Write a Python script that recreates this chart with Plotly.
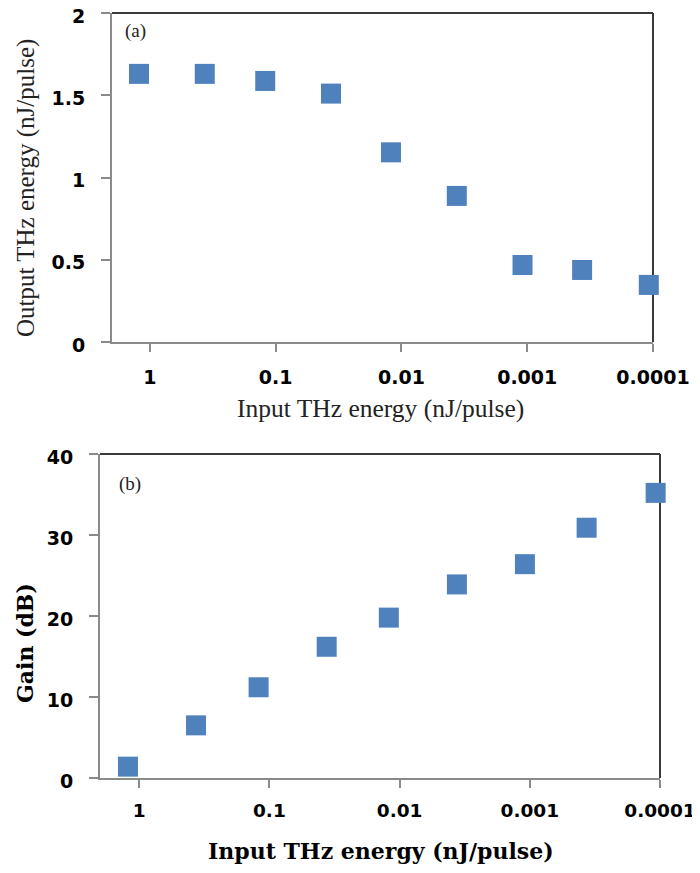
import plotly.graph_objects as go

# ---- data ----
input_energy = [1.22, 0.366, 0.121, 0.0363, 0.0121, 0.00363, 0.00109, 0.000366, 0.000108]
output_energy = [1.63, 1.63, 1.587, 1.51, 1.153, 0.888, 0.468, 0.438, 0.347]
gain_db = [1.4, 6.5, 11.2, 16.2, 19.8, 23.9, 26.4, 30.9, 35.2]

x_tickvals = [1, 0.1, 0.01, 0.001, 0.0001]
x_ticktext = ["1", "0.1", "0.01", "0.001", "0.0001"]
y1_tickvals = [0, 0.5, 1, 1.5, 2]
y1_ticktext = ["0", "0.5", "1", "1.5", "2"]
y2_tickvals = [0, 10, 20, 30, 40]

# page body has an 8px margin, so the figure is drawn at (8, 8)
OFF = 8
W, H = 700 - OFF, 873 - OFF
MARK = "#4F81BD"
AX_GRAY = "#8a8a8a"
BOX_DARK = "#3a3a3a"
TICK_FONT = dict(family="DejaVu Sans", size=19, color="black", weight="bold")


def fx(px):
    return (px - OFF) / W


def fy(py):
    return 1 - (py - OFF) / H


fig = go.Figure()
fig.add_trace(go.Scatter(x=input_energy, y=output_energy, mode="markers",
                         marker=dict(symbol="square", size=20, color=MARK),
                         xaxis="x", yaxis="y", showlegend=False, cliponaxis=False))
fig.add_trace(go.Scatter(x=input_energy, y=gain_db, mode="markers",
                         marker=dict(symbol="square", size=20, color=MARK),
                         xaxis="x2", yaxis="y2", showlegend=False, cliponaxis=False))

common_x = dict(type="log", range=[0.301, -4], tickvals=x_tickvals, ticktext=x_ticktext,
                showgrid=False, zeroline=False, showline=True, linecolor=AX_GRAY, linewidth=2,
                ticks="outside", ticklen=8, tickwidth=2, tickcolor=AX_GRAY,
                automargin=False, ticklabeloverflow="allow")
common_y = dict(showgrid=False, zeroline=False, showline=True, linecolor=AX_GRAY, linewidth=2,
                ticks="outside", ticklen=9, tickwidth=2, tickcolor=AX_GRAY,
                tickfont=TICK_FONT, ticklabelstandoff=12, automargin=False,
                ticklabeloverflow="allow", ticklabelshift=3)

fig.update_layout(
    width=W, height=H, margin=dict(l=0, r=0, t=0, b=0),
    paper_bgcolor="white", plot_bgcolor="white",
    xaxis=dict(domain=[fx(112), fx(653)], anchor="y", ticklabelstandoff=9,
               tickfont=TICK_FONT, **common_x),
    yaxis=dict(domain=[fy(342), fy(13)], anchor="x", range=[0, 2],
               tickvals=y1_tickvals, ticktext=y1_ticktext, **common_y),
    xaxis2=dict(domain=[fx(100), fx(660)], anchor="y2", ticklabelstandoff=7,
                tickfont=dict(TICK_FONT, size=18.5), **common_x),
    yaxis2=dict(domain=[fy(778), fy(454)], anchor="x2", range=[0, 40],
                tickvals=y2_tickvals, **common_y),
)

# top and right frame edges (darker)
for xr, yr in (("x domain", "y domain"), ("x2 domain", "y2 domain")):
    fig.add_shape(type="line", xref=xr, yref=yr, x0=0, x1=1, y0=1, y1=1,
                  line=dict(color=BOX_DARK, width=2), layer="below")
    fig.add_shape(type="line", xref=xr, yref=yr, x0=1, x1=1, y0=0, y1=1,
                  line=dict(color=BOX_DARK, width=2), layer="below")

serif = "Liberation Serif"
anns = [
    dict(text="Input THz energy (nJ/pulse)", x=fx(380), y=fy(408),
         font=dict(family=serif, size=25.5, color="#222")),
    dict(text="Output THz energy (nJ/pulse)", x=fx(26), y=fy(188), textangle=-90,
         font=dict(family=serif, size=25, color="#222")),
    dict(text="Input THz energy (nJ/pulse)", x=fx(381), y=fy(851),
         font=dict(family="DejaVu Serif", size=22, color="black", weight="bold")),
    dict(text="Gain (dB)", x=fx(25), y=fy(643), textangle=-90,
         font=dict(family="DejaVu Serif", size=22, color="black", weight="bold")),
    dict(text="(a)", x=fx(135), y=fy(31), font=dict(family=serif, size=19, color="#222")),
    dict(text="(b)", x=fx(130), y=fy(484), font=dict(family=serif, size=19, color="#222")),
]
for a in anns:
    fig.add_annotation(xref="paper", yref="paper", showarrow=False,
                       xanchor="center", yanchor="middle", **a)

fig.write_html("out.html")
